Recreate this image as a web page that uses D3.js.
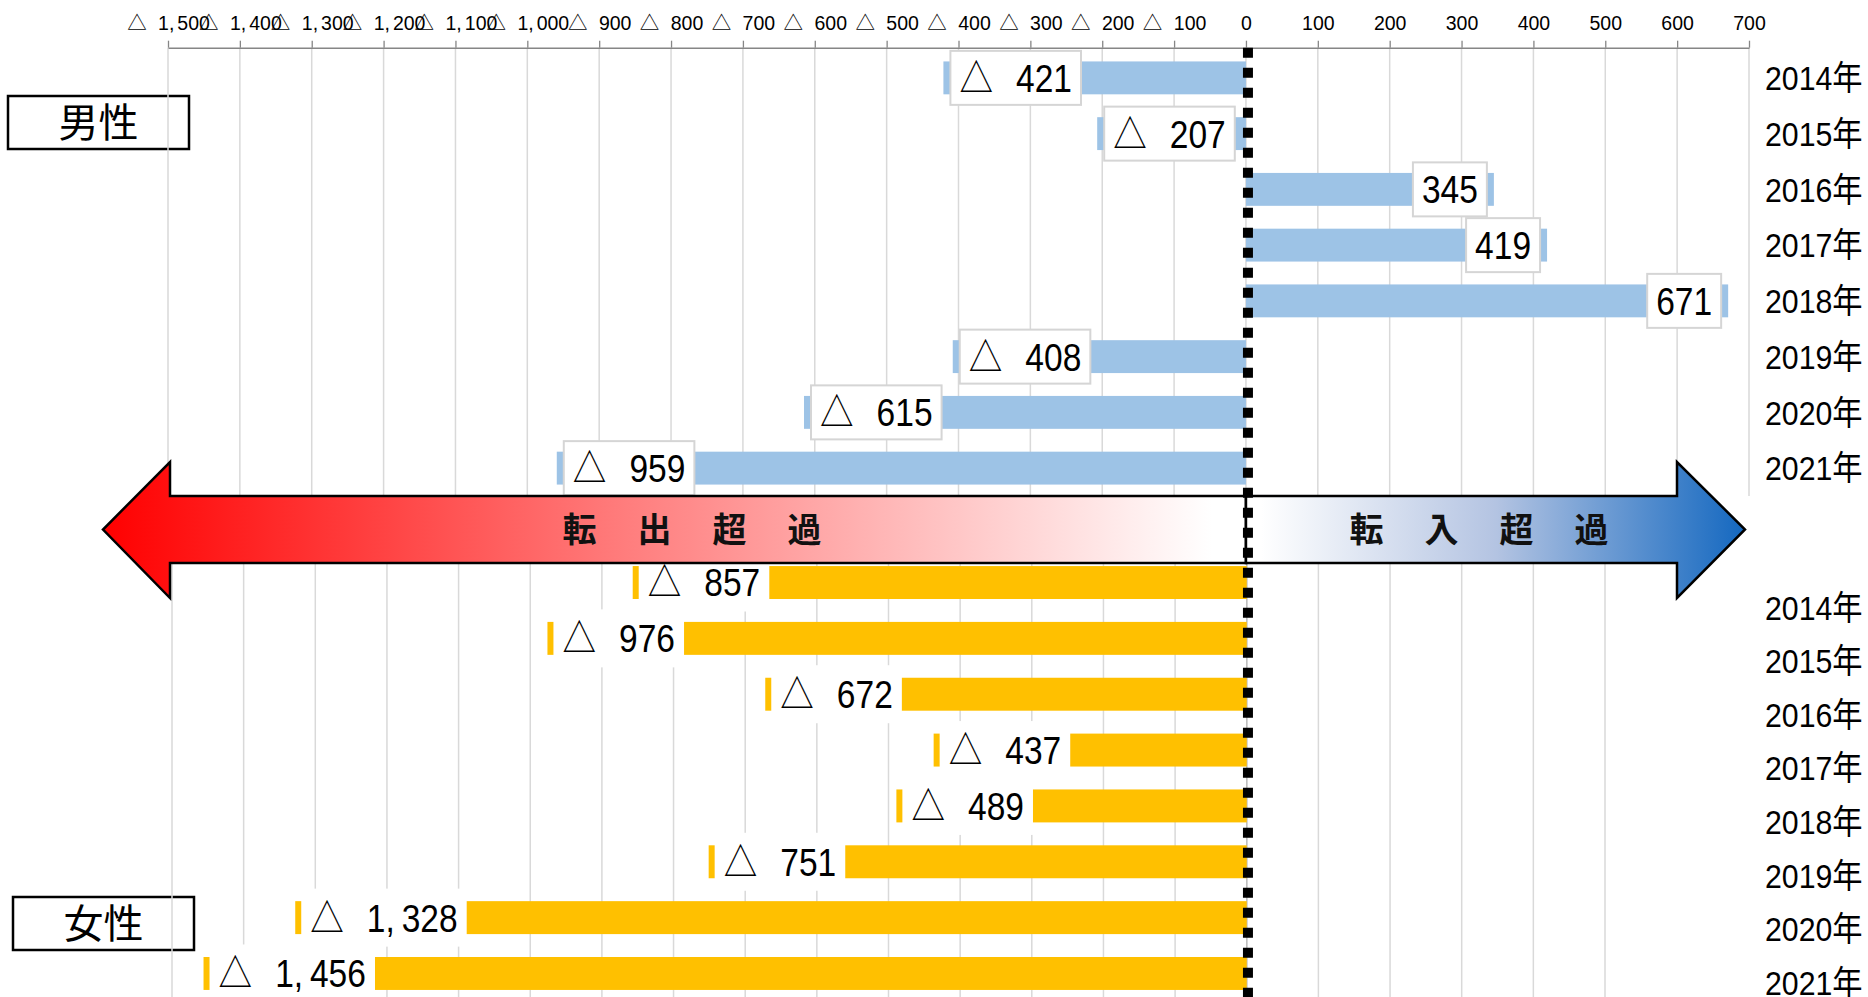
<!DOCTYPE html>
<html><head><meta charset="utf-8">
<script src="https://cdn.jsdelivr.net/npm/d3@7"></script>
<style>html,body{margin:0;padding:0;background:#fff;overflow:hidden}text{white-space:pre}</style>
</head><body>
<svg id="c" width="1868" height="997"></svg>
<script>
// ---------- data ----------
const years = ["2014年","2015年","2016年","2017年","2018年","2019年","2020年","2021年"];
const maleValues = [-421, -207, 345, 419, 671, -408, -615, -959];
const femaleValues = [-857, -976, -672, -437, -489, -751, -1328, -1456];
const upperTickValues = [-1500,-1400,-1300,-1200,-1100,-1000,-900,-800,-700,-600,-500,-400,-300,-200,-100,0,100,200,300,400,500,600,700];
const lowerTickValues = [-1500,-1400,-1300,-1200,-1100,-1000,-900,-800,-700,-600,-500,-400,-300,-200,-100,0,100,200,300,400,500];
const groupLabels = ["男性", "女性"];
const arrowLabels = ["転 出 超 過", "転 入 超 過"];

// ---------- layout ----------
const svg = d3.select("#c");
const NUM = "'Liberation Sans','Noto Sans CJK JP',sans-serif";
const CJK = "'Noto Sans CJK JP',sans-serif";
const axisY = 47.7;
const KX = 0.86;   // horizontal condensing of label text
const KY = 0.89;   // horizontal condensing of year labels

const xU = d3.scaleLinear().domain([-1500, 700]).range([168, 1749]);
const xL = d3.scaleLinear().domain([-1500, 500]).range([172, 1605]);
const yU = d3.scaleBand().domain(years).range([50, 496]).paddingInner(0.41).paddingOuter(0.205);
const yL = d3.scaleBand().domain(years).range([554.6, 1001.4]).paddingInner(0.41).paddingOuter(0.205);
const yLabL = d3.scalePoint().domain(years).range([607.5, 982.5]);

const fmt = d3.format(",");
// writes "△ 1,234" style text; gap = extra space after △, cgap = extra space after comma
function valueText(sel, v, gap, cgap) {
  sel.selectAll("tspan").remove();
  const s = fmt(Math.abs(v));
  if (v < 0) sel.append("tspan").attr("font-family", CJK).text("△");
  const parts = s.split(",");
  parts.forEach((p, i) => {
    const t = sel.append("tspan");
    let txt = p + (i < parts.length - 1 ? "," : "");
    if (i === 0 && v < 0) { txt = " " + txt; t.attr("dx", gap); }
    if (i > 0) t.attr("dx", cgap);
    t.text(txt);
  });
}

// group label boxes (drawn beneath the charts)
const gBoxes = [{t: groupLabels[0], x: 8, y: 96}, {t: groupLabels[1], x: 13, y: 897}];
const gb = svg.append("g").selectAll("g").data(gBoxes).join("g");
gb.append("rect").attr("x", d => d.x).attr("y", d => d.y).attr("width", 181).attr("height", 53)
  .attr("fill", "#fff").attr("stroke", "#000").attr("stroke-width", 2.5);
gb.append("text").attr("x", d => d.x + 90.5).attr("y", d => d.y + 26.5).attr("dy", "0.36em")
  .attr("text-anchor", "middle").attr("font-family", CJK).attr("font-size", 40).text(d => d.t);

// ---------- gridlines ----------
svg.append("g").selectAll("line").data(upperTickValues).join("line")
  .attr("x1", d => xU(d)).attr("x2", d => xU(d)).attr("y1", axisY).attr("y2", 496)
  .attr("stroke", "#d9d9d9").attr("stroke-width", 1.5);
svg.append("g").selectAll("line").data(lowerTickValues).join("line")
  .attr("x1", d => xL(d)).attr("x2", d => xL(d)).attr("y1", 555).attr("y2", 997)
  .attr("stroke", "#d9d9d9").attr("stroke-width", 1.5);
svg.append("line").attr("x1", xL(0)).attr("x2", xL(0)).attr("y1", 555).attr("y2", 997)
  .attr("stroke", "#bfbfbf").attr("stroke-width", 1.5);

// ---------- top axis ----------
const axis = svg.append("g").attr("transform", `translate(0,${axisY})`)
  .call(d3.axisTop(xU).tickValues(upperTickValues).tickSize(7).tickSizeOuter(0).tickPadding(12));
axis.select(".domain").attr("stroke", "#868686").attr("stroke-width", 1.5);
axis.selectAll(".tick line").attr("stroke", "#868686").attr("stroke-width", 1.3);
axis.selectAll(".tick text").attr("font-family", NUM).attr("font-size", 19.5).attr("fill", "#000")
  .attr("dy", null).attr("y", -18)
  .each(function(d) { valueText(d3.select(this).text(null), d, 6, 3); });

// ---------- bars ----------
const male = years.map((y, i) => ({y, v: maleValues[i]}));
const female = years.map((y, i) => ({y, v: femaleValues[i]}));

svg.append("g").selectAll("rect").data(male).join("rect")
  .attr("x", d => xU(Math.min(0, d.v))).attr("width", d => Math.abs(xU(d.v) - xU(0)))
  .attr("y", d => yU(d.y)).attr("height", yU.bandwidth()).attr("fill", "#9dc3e6");
svg.append("g").selectAll("rect").data(female).join("rect")
  .attr("x", d => xL(Math.min(0, d.v))).attr("width", d => Math.abs(xL(d.v) - xL(0)))
  .attr("y", d => yL(d.y)).attr("height", yL.bandwidth()).attr("fill", "#ffc000");

// ---------- data labels ----------
const LFS = 39, PADL = 9, PADR = 9;
function drawLabels(data, x, y, boxH, stroke, inset) {
  const g = svg.append("g").selectAll("g").data(data).join("g");
  g.append("rect").attr("fill", "#fff").attr("stroke", stroke).attr("stroke-width", stroke === "none" ? 0 : 2);
  const tg = g.append("g");
  const text = tg.append("text").attr("font-family", NUM).attr("font-size", LFS).attr("fill", "#000");
  text.each(function(d) { valueText(d3.select(this), d.v, 16, 8); });
  g.each(function(d) {
    const t = d3.select(this).select("text").node();
    const bb = t.getBBox();
    const w = (bb.x + bb.width) * KX;
    const bw = w + PADL + PADR;
    const cy = y(d.y) + y.bandwidth() / 2;
    const bx = d.v < 0 ? x(d.v) + inset : x(d.v) - inset - bw;
    d3.select(this).select("g").attr("transform", `translate(${bx + PADL},${cy + LFS * 0.358}) scale(${KX},1)`);
    d3.select(this).select("rect").attr("x", bx).attr("y", cy - boxH / 2).attr("width", bw).attr("height", boxH);
  });
}
drawLabels(male, xU, yU, 54, "#d5d5d5", 7);
drawLabels(female, xL, yL, 58, "none", 6);

// ---------- arrows ----------
const defs = svg.append("defs");
const x0 = xU(0);
const A = {bt: 496, bb: 563, ht: 462, hb: 598, cy: 529.5, lTip: 103, lBase: 170, rBase: 1677, rTip: 1745};
const gl = defs.append("linearGradient").attr("id", "gL").attr("gradientUnits", "userSpaceOnUse")
  .attr("x1", A.lTip).attr("x2", x0).attr("y1", 0).attr("y2", 0);
gl.append("stop").attr("offset", 0).attr("stop-color", "#ff0000");
gl.append("stop").attr("offset", 0.45).attr("stop-color", "#ff7b7b");
gl.append("stop").attr("offset", 0.97).attr("stop-color", "#ffffff");
const gr = defs.append("linearGradient").attr("id", "gR").attr("gradientUnits", "userSpaceOnUse")
  .attr("x1", x0).attr("x2", A.rTip).attr("y1", 0).attr("y2", 0);
gr.append("stop").attr("offset", 0.03).attr("stop-color", "#ffffff");
gr.append("stop").attr("offset", 0.5).attr("stop-color", "#b4c4e2");
gr.append("stop").attr("offset", 1).attr("stop-color", "#1468c0");

const leftPath = `M${x0},${A.bt}L${A.lBase},${A.bt}L${A.lBase},${A.ht}L${A.lTip},${A.cy}L${A.lBase},${A.hb}L${A.lBase},${A.bb}L${x0},${A.bb}Z`;
const rightPath = `M${x0},${A.bt}L${A.rBase},${A.bt}L${A.rBase},${A.ht}L${A.rTip},${A.cy}L${A.rBase},${A.hb}L${A.rBase},${A.bb}L${x0},${A.bb}Z`;
svg.append("path").attr("d", leftPath).attr("fill", "url(#gL)").attr("stroke", "#000").attr("stroke-width", 2.5);
svg.append("path").attr("d", rightPath).attr("fill", "url(#gR)").attr("stroke", "#000").attr("stroke-width", 2.5);

const arrowText = [{t: arrowLabels[0], cx: 692}, {t: arrowLabels[1], cx: 1479}];
svg.append("g").selectAll("text").data(arrowText).join("text")
  .attr("font-family", CJK).attr("font-weight", 700).attr("font-size", 34).attr("fill", "#111")
  .attr("y", A.cy).attr("dy", "0.36em").text(d => d.t)
  .each(function(d) {
    const L0 = this.getComputedTextLength();
    const n = d.t.length;
    const target = 259;
    const ls = (target - L0) / (n - 1);
    d3.select(this).attr("letter-spacing", ls).attr("x", d.cx - target / 2);
  });

// ---------- zero dashed line ----------
svg.append("line").attr("x1", x0 + 2).attr("x2", x0 + 2).attr("y1", axisY).attr("y2", 997)
  .attr("stroke", "#000").attr("stroke-width", 10).attr("stroke-dasharray", "10 10");

// ---------- year labels ----------
function yearLabels(posFn) {
  svg.append("g").selectAll("g").data(years).join("g")
    .attr("transform", d => `translate(1765,${posFn(d) + 34 * 0.358}) scale(${KY},1)`)
    .append("text").attr("font-family", NUM).attr("font-size", 34).attr("fill", "#000").text(d => d);
}
yearLabels(d => yU(d) + yU.bandwidth() / 2);
yearLabels(d => yLabL(d));
</script>
</body></html>
